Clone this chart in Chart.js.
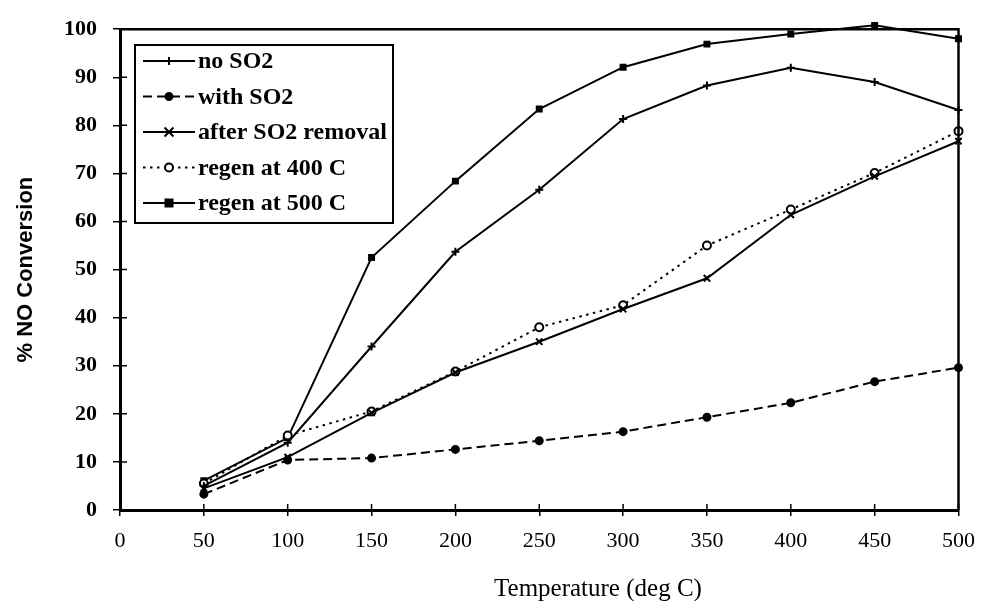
<!DOCTYPE html>
<html>
<head>
<meta charset="utf-8">
<script src="https://cdn.jsdelivr.net/npm/chart.js@4/dist/chart.umd.min.js"></script>
<style>
  body { margin: 0; background: #fff; }
  canvas { display: block; }
</style>
</head>
<body>
<canvas id="no-chart" width="987" height="601"></canvas>
<script>
// temperature (deg C) and % NO conversion
var temps = [50, 100, 150, 200, 250, 300, 350, 400, 450, 500];
var noSO2 = [5, 14, 34, 53.7, 66.6, 81.3, 88.3, 92, 89, 83.2];
var withSO2 = [3.3, 10.4, 10.8, 12.6, 14.4, 16.3, 19.3, 22.3, 26.7, 29.6];
var afterRemoval = [4.5, 11, 20.2, 28.6, 35, 41.8, 48.2, 61.4, 69.4, 76.7];
var regen400 = [5.5, 15.5, 20.5, 28.8, 38, 42.6, 55, 62.5, 70.1, 78.8];
var regen500 = [6.1, 15, 52.5, 68.4, 83.4, 92.1, 96.9, 99, 100.8, 98];

var xTicks = [0, 50, 100, 150, 200, 250, 300, 350, 400, 450, 500];
var yTicks = [0, 10, 20, 30, 40, 50, 60, 70, 80, 90, 100];
var xTitle = 'Temperature (deg C)';

function pts(vals) {
  return temps.map(function(t, i) { return { x: t, y: vals[i] }; });
}

function series(label, vals, dash, marker, radius, fill) {
  return {
    label: label,
    data: pts(vals),
    borderColor: '#000',
    borderWidth: 2,
    borderDash: dash,
    pointStyle: marker,
    pointRadius: radius,
    pointBorderWidth: 2,
    pointBorderColor: '#000',
    pointBackgroundColor: fill,
    tension: 0,
    fill: false,
    clip: false,
    legendDash: dash
  };
}

function drawMarker(ctx, style, x, y, r, fill) {
  ctx.save();
  ctx.setLineDash([]);
  ctx.lineWidth = 2;
  ctx.strokeStyle = '#000';
  ctx.fillStyle = fill;
  ctx.beginPath();
  if (style === 'circle') {
    ctx.arc(x, y, r, 0, Math.PI * 2);
    ctx.fill(); ctx.stroke();
  } else if (style === 'rect') {
    ctx.rect(x - r, y - r, 2 * r, 2 * r);
    ctx.fill(); ctx.stroke();
  } else if (style === 'crossRot') {
    ctx.moveTo(x - r, y - r); ctx.lineTo(x + r, y + r);
    ctx.moveTo(x + r, y - r); ctx.lineTo(x - r, y + r);
    ctx.stroke();
  } else {
    ctx.moveTo(x, y - r); ctx.lineTo(x, y + r);
    ctx.moveTo(x - r, y); ctx.lineTo(x + r, y);
    ctx.stroke();
  }
  ctx.restore();
}

var frameAndLegend = {
  id: 'frameAndLegend',
  afterDatasetsDraw: function(chart) {
    var ctx = chart.ctx, a = chart.chartArea;
    var xs = chart.scales.x, ys = chart.scales.y;
    ctx.save();
    ctx.strokeStyle = '#000';
    // top and right frame
    ctx.lineWidth = 2.5;
    ctx.beginPath();
    ctx.moveTo(a.left, a.top); ctx.lineTo(a.right, a.top); ctx.lineTo(a.right, a.bottom);
    ctx.stroke();
    // inner halves of the tick marks
    ctx.lineWidth = 1.5;
    ctx.beginPath();
    xTicks.forEach(function(v) {
      var px = xs.getPixelForValue(v);
      ctx.moveTo(px, a.bottom); ctx.lineTo(px, a.bottom - 6);
    });
    yTicks.forEach(function(v) {
      var py = ys.getPixelForValue(v);
      ctx.moveTo(a.left, py); ctx.lineTo(a.left + 7, py);
    });
    ctx.stroke();

    // x axis title, sits a bit right of centre in the original
    ctx.fillStyle = '#000';
    ctx.font = '25px "Liberation Serif"';
    ctx.textAlign = 'center';
    ctx.textBaseline = 'middle';
    ctx.fillText(xTitle, a.left + (a.right - a.left) * 0.57, 589);

    // legend box
    var bx = 135, by = 45, bw = 258, bh = 178;
    ctx.fillStyle = '#fff';
    ctx.fillRect(bx, by, bw, bh);
    ctx.lineWidth = 2;
    ctx.strokeRect(bx, by, bw, bh);
    ctx.font = 'bold 24px "Liberation Serif"';
    ctx.textBaseline = 'middle';
    ctx.textAlign = 'left';
    chart.data.datasets.forEach(function(ds, i) {
      var y = by + 16 + i * 35.5;
      ctx.save();
      ctx.lineWidth = 2;
      ctx.setLineDash(ds.legendDash);
      ctx.beginPath();
      ctx.moveTo(bx + 8, y); ctx.lineTo(bx + 60, y);
      ctx.stroke();
      ctx.restore();
      drawMarker(ctx, ds.pointStyle, bx + 34, y, ds.pointRadius, ds.pointBackgroundColor);
      ctx.fillStyle = '#000';
      ctx.fillText(ds.label, bx + 63, y + 1);
    });
    ctx.restore();
  }
};

new Chart(document.getElementById('no-chart'), {
  type: 'line',
  data: {
    datasets: [
      series('no SO2', noSO2, [], 'cross', 4, '#000'),
      series('with SO2', withSO2, [9, 5], 'circle', 3.5, '#000'),
      series('after SO2 removal', afterRemoval, [], 'crossRot', 4.5, '#000'),
      series('regen at 400 C', regen400, [2.5, 4.5], 'circle', 4, '#fff'),
      series('regen at 500 C', regen500, [], 'rect', 3.5, '#000')
    ]
  },
  options: {
    responsive: false,
    animation: false,
    layout: { padding: { top: 29, right: 24, left: 0, bottom: 0 } },
    plugins: {
      legend: { display: false },
      tooltip: { enabled: false }
    },
    scales: {
      x: {
        type: 'linear',
        min: 0,
        max: 500,
        afterBuildTicks: function(s) { s.ticks = xTicks.map(function(v) { return { value: v }; }); },
        afterFit: function(s) { s.height = 91; },
        ticks: { color: '#000', padding: 12, maxRotation: 0,
                 font: { family: '"Liberation Serif"', size: 22 } },
        grid: { drawOnChartArea: false, drawTicks: true, tickLength: 6, color: '#000', lineWidth: 1.5 },
        border: { color: '#000', width: 3 },
        title: { display: false }
      },
      y: {
        min: 0,
        max: 100,
        afterBuildTicks: function(s) { s.ticks = yTicks.map(function(v) { return { value: v }; }); },
        afterFit: function(s) { s.width = 120; },
        ticks: { color: '#000', padding: 16,
                 font: { family: '"Liberation Serif"', size: 22, weight: 'bold' } },
        grid: { drawOnChartArea: false, drawTicks: true, tickLength: 7, color: '#000', lineWidth: 1.5 },
        border: { color: '#000', width: 3 },
        title: { display: true, text: '% NO Conversion', color: '#000',
                 font: { family: '"Liberation Sans"', size: 22, weight: 'bold' }, padding: { top: 13, bottom: 0 } }
      }
    }
  },
  plugins: [frameAndLegend]
});
</script>
</body>
</html>
